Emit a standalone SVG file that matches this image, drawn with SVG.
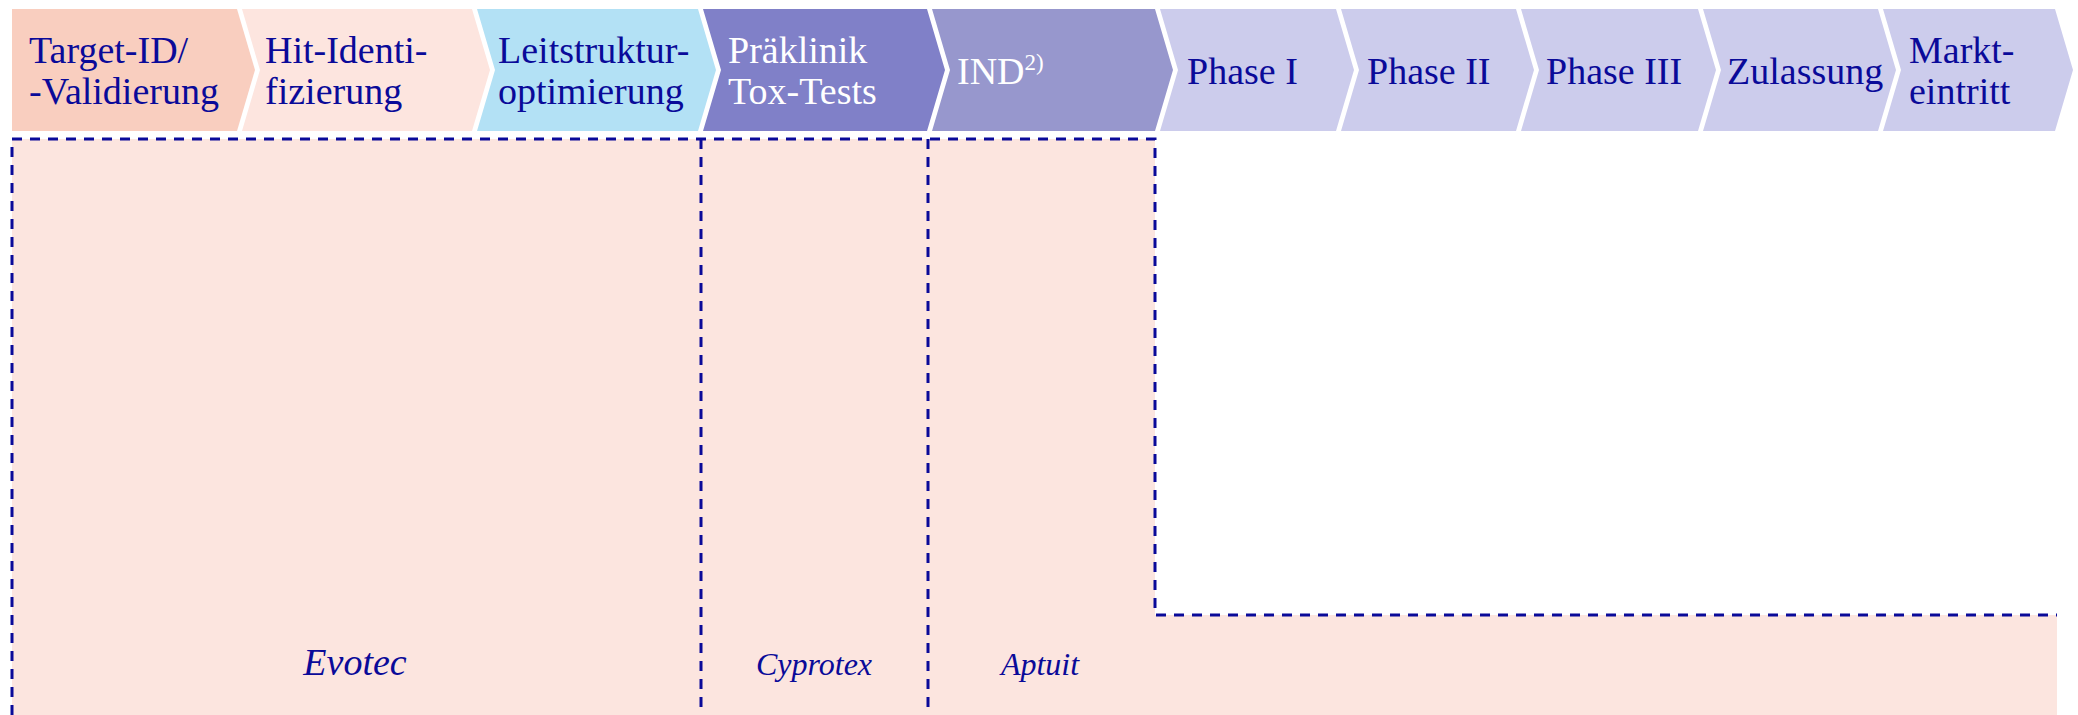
<svg xmlns="http://www.w3.org/2000/svg" width="2078" height="715" viewBox="0 0 2078 715">
<style>
.t{font-family:"Liberation Serif","DejaVu Serif",serif;font-size:38px;fill:#0A0A99}
.w{fill:#FFFFFF}
.lab{font-family:"Liberation Serif","DejaVu Serif",serif;font-style:italic;fill:#0A0A99;text-anchor:middle}
.d{fill:none;stroke:#0A0A99;stroke-width:3;stroke-dasharray:10 8}
.sup{font-size:23px}
</style>
<rect width="2078" height="715" fill="#FFFFFF"/>
<g id="region-fill">
<path d="M12,139 H1155 V615 H2057 V715 H12 Z" fill="#FCE5DF"/>
</g>
<g id="chevron-target"><path d="M12,9 H237 L255,70 L237,131 H12 Z" fill="#F9CEBF"/><text class="t" x="29" y="63">Target-ID/</text><text class="t" x="29" y="104">-Validierung</text></g>
<g id="chevron-hit"><path d="M242,9 H472 L490,70 L472,131 H242 L260,70 Z" fill="#FDE5DF"/><text class="t" x="265" y="63">Hit-Identi-</text><text class="t" x="265" y="104">fizierung</text></g>
<g id="chevron-lead"><path d="M477,9 H698 L716,70 L698,131 H477 L495,70 Z" fill="#B3E1F5"/><text class="t" x="498" y="63">Leitstruktur-</text><text class="t" x="498" y="104">optimierung</text></g>
<g id="chevron-preclinic"><path d="M703,9 H927 L945,70 L927,131 H703 L721,70 Z" fill="#8080C8"/><text class="t w" x="728" y="63">Präklinik</text><text class="t w" x="728" y="104">Tox-Tests</text></g>
<g id="chevron-ind"><path d="M932,9 H1155 L1173,70 L1155,131 H932 L950,70 Z" fill="#9797CD"/><text class="t w" x="957" y="84">IND<tspan class="sup" dy="-14">2)</tspan></text></g>
<g id="chevron-phase1"><path d="M1160,9 H1336 L1354,70 L1336,131 H1160 L1178,70 Z" fill="#CCCCEC"/><text class="t" x="1187" y="84">Phase I</text></g>
<g id="chevron-phase2"><path d="M1341,9 H1516 L1534,70 L1516,131 H1341 L1359,70 Z" fill="#CCCCEC"/><text class="t" x="1367" y="84">Phase II</text></g>
<g id="chevron-phase3"><path d="M1521,9 H1698 L1716,70 L1698,131 H1521 L1539,70 Z" fill="#CCCCEC"/><text class="t" x="1546" y="84">Phase III</text></g>
<g id="chevron-approval"><path d="M1703,9 H1878 L1896,70 L1878,131 H1703 L1721,70 Z" fill="#CCCCEC"/><text class="t" x="1727" y="84">Zulassung</text></g>
<g id="chevron-market"><path d="M1883,9 H2055 L2073,70 L2055,131 H1883 L1901,70 Z" fill="#CCCCEC"/><text class="t" x="1909" y="63">Markt-</text><text class="t" x="1909" y="104">eintritt</text></g>
<g id="connectors">
<path class="d" d="M12,715 V139 H1155 V615 H2057"/>
<path class="d" d="M701,139 V715"/>
<path class="d" d="M928,139 V715"/>
</g>
<g id="label-evotec"><text class="lab" x="355" y="675" font-size="38">Evotec</text></g>
<g id="label-cyprotex"><text class="lab" x="814" y="675" font-size="32">Cyprotex</text></g>
<g id="label-aptuit"><text class="lab" x="1040" y="675" font-size="32">Aptuit</text></g>
</svg>
